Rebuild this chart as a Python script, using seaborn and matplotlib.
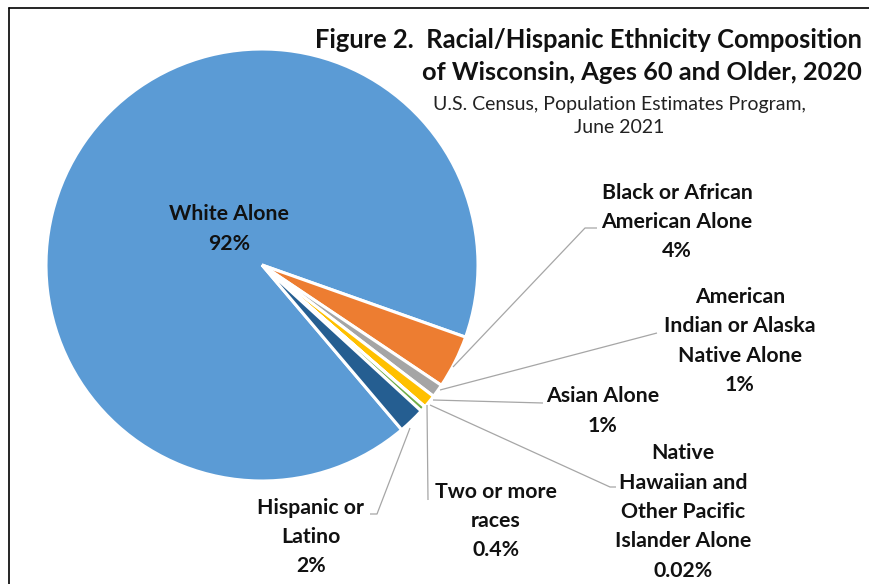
import matplotlib
matplotlib.use("Agg")
import matplotlib.pyplot as plt
from matplotlib.lines import Line2D
import seaborn as sns

# ---------------- data ----------------
categories = [
    "White Alone",
    "Black or African\nAmerican Alone",
    "American\nIndian or Alaska\nNative Alone",
    "Asian Alone",
    "Native\nHawaiian and\nOther Pacific\nIslander Alone",
    "Two or more\nraces",
    "Hispanic or\nLatino",
]
values = [92, 4, 1, 1, 0.02, 0.4, 2]
pct_labels = ["92%", "4%", "1%", "1%", "0.02%", "0.4%", "2%"]
colors = ["#5B9BD5", "#ED7D31", "#A5A5A5", "#FFC000", "#4472C4", "#70AD47", "#255E91"]

title_line1 = "Figure 2.  Racial/Hispanic Ethnicity Composition"
title_line2 = "of Wisconsin, Ages 60 and Older, 2020"
subtitle = "U.S. Census, Population Estimates Program,\nJune 2021"

# ---------------- layout ----------------
W, H = 870, 584
sns.set_theme(style="white")
plt.rcParams["font.family"] = ["Lato", "DejaVu Sans"]
palette = sns.color_palette(colors)

fig = plt.figure(figsize=(W / 100, H / 100), dpi=100)
ax = fig.add_axes([0, 0, 1, 1])

def Y(y):
    return H - y

ax.pie(values, colors=palette, startangle=-49.7, counterclock=False,
       center=(262, Y(265)), radius=216,
       wedgeprops=dict(edgecolor="white", linewidth=2.2))
ax.set_xlim(0, W)
ax.set_ylim(0, H)
ax.set_aspect("equal")
ax.axis("off")

lab = dict(ha="center", va="center", fontsize=15.3, fontweight="bold",
           color="#111111", linespacing=1.58)

# label positions (pixel layout)
label_pos = [(229, 229), (677, 222), (740, 341), (603, 411), (683, 512), (496, 521), (311, 537)]
for name, pct, (x, y) in zip(categories, pct_labels, label_pos):
    ax.text(x, Y(y), f"{name}\n{pct}", **lab)

# leader lines
leaders = [
    None,
    [(453, 367), (585, 228), (597, 228)],
    [(440, 390), (657, 333)],
    [(433, 400), (543, 403)],
    [(430, 405), (610, 487), (616, 487)],
    [(427, 405), (428, 500)],
    [(410, 428), (377, 514), (370, 514)],
]
for pts in leaders:
    if pts is None:
        continue
    xs = [p[0] for p in pts]
    ys = [Y(p[1]) for p in pts]
    ax.plot(xs, ys, color="#A6A6A6", lw=0.9, solid_capstyle="butt")

# titles
ax.text(862, Y(40), title_line1, ha="right", va="center", fontsize=18.4,
        fontweight="bold", color="#111111")
ax.text(862, Y(72), title_line2, ha="right", va="center", fontsize=18.3,
        fontweight="bold", color="#111111")
ax.text(619, Y(116), subtitle, ha="center", va="center", fontsize=14,
        color="#222222", linespacing=1.45)

# frame lines (top and left)
fig.add_artist(Line2D([9 / W, 1], [Y(8) / H, Y(8) / H], color="black", lw=1.2))
fig.add_artist(Line2D([9 / W, 9 / W], [0, Y(8) / H], color="black", lw=1.2))

fig.savefig("out.png", dpi=100)
